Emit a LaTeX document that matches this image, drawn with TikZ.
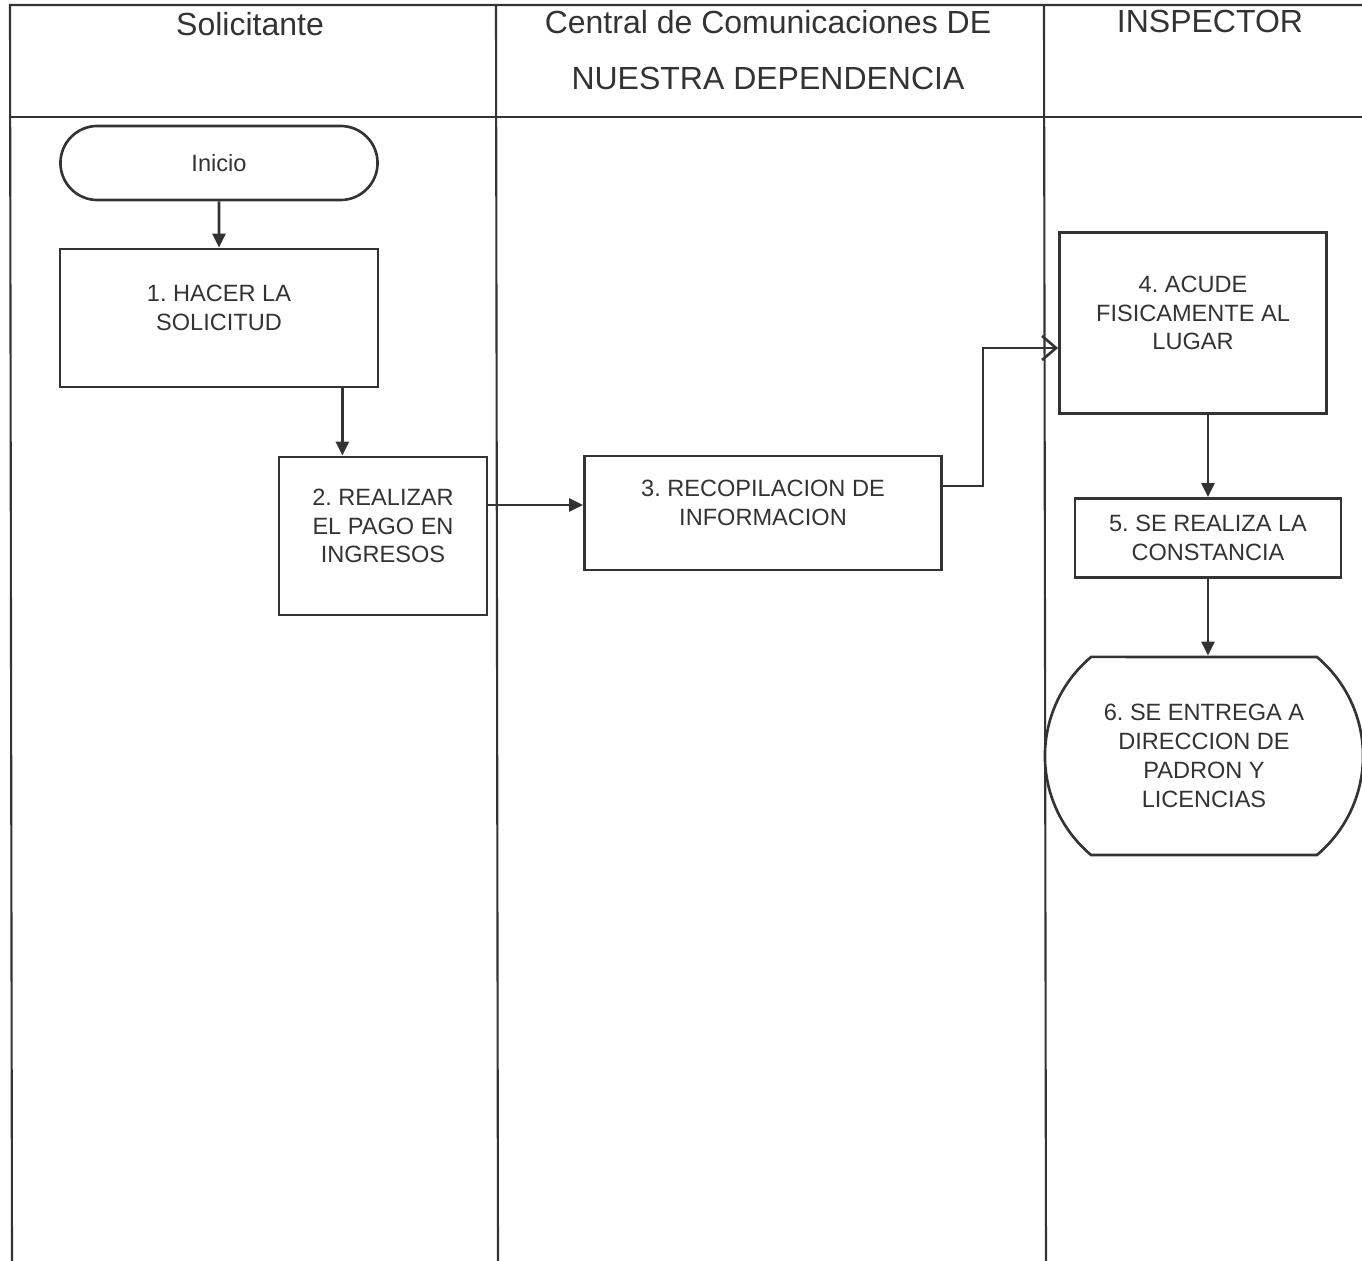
\documentclass[tikz,border=0pt]{standalone}
\usepackage{fontspec}
\setmainfont{Liberation Sans}
\frenchspacing
\usetikzlibrary{arrows.meta,shapes.misc}
\definecolor{ink}{HTML}{333333}

\begin{document}
\begin{tikzpicture}[x=0.01cm, y=-0.01cm, line width=0.75pt, color=ink,
    lane/.style={line width=0.6pt},
    head/.style={font=\fontsize{9.1}{15.9}\selectfont, align=center, inner sep=0pt},
    txt/.style={align=center, font=\fontsize{6.7}{8.2}\selectfont, inner sep=0pt},
    stepbox/.style={rectangle, draw, fill=white, inner sep=0pt},
    term/.style={rounded rectangle, draw, fill=white, align=center, font=\fontsize{6.7}{8.2}\selectfont, inner sep=2pt},
    flow/.style={-{Triangle[length=0.14cm,width=0.13cm]}},
    flowo/.style={-{Straight Barb[length=0.14cm,width=0.24cm]}}]
    \path[use as bounding box] (0,0) rectangle (1362,1261);

    % lanes
    \draw[lane] (1362,5) -- (10,5) -- (12,1261);
    \draw[lane] (10,117) -- (1362,117);
    \draw[lane] (496,5) -- (498,1261);
    \draw[lane] (1044,5) -- (1046,1261);

    \node[head] (H1) at (250,24) {Solicitante};
    \node[head] (H2) at (768,50) {Central de Comunicaciones DE\\NUESTRA DEPENDENCIA};
    \node[head] (H3) at (1210,21) {INSPECTOR};

    \node[term, minimum width=3.31cm, minimum height=0.74cm] (I) at (219,163) {Inicio};
    \node[stepbox, minimum width=3.18cm, minimum height=1.38cm] (P1) at (219,318) {};
    \node[stepbox, minimum width=2.08cm, minimum height=1.58cm] (P2) at (383,536) {};
    \node[stepbox, minimum width=3.57cm, minimum height=1.14cm] (P3) at (763,513) {};
    \node[stepbox, minimum width=2.67cm, minimum height=1.81cm] (P4) at (1193,323) {};
    \node[stepbox, minimum width=2.66cm, minimum height=0.79cm] (P5) at (1208,538) {};
    \node[term, rounded rectangle arc length=100, minimum width=3.32cm, minimum height=1.98cm] (F) at (1204,756) {6. SE ENTREGA A\\DIRECCION DE\\PADRON Y\\LICENCIAS};

    \node[txt] (T1) at ([yshift=0.1cm]P1) {1. HACER LA\\SOLICITUD};
    \node[txt] (T2) at ([yshift=0.1cm]P2) {2. REALIZAR\\EL PAGO EN\\INGRESOS};
    \node[txt] (T3) at ([yshift=0.1cm]P3) {3. RECOPILACION DE\\INFORMACION};
    \node[txt] (T4) at ([yshift=0.1cm]P4) {4. ACUDE\\FISICAMENTE AL\\LUGAR};
    \node[txt] (T5) at (P5) {5. SE REALIZA LA\\CONSTANCIA};
    \coordinate (c3) at ([yshift=0.08cm]P3.west);

    % flow
    \draw[flow] (I) -- (P1);
    \draw[flow] ([xshift=-0.37cm]P1.south east) -- ([xshift=-0.37cm]P1.south east |- P2.north);
    \draw[flow] (P2.east |- c3) -- (c3);
    \draw[flowo] ([yshift=0.27cm]P3.east) -- ++(40,0) |- ([yshift=-0.25cm]P4.west);
    \draw[flow] (P5.north |- P4.south) -- (P5.north);
    \draw[flow] (P5.south) -- (P5.south |- F.north);
\end{tikzpicture}
\end{document}
